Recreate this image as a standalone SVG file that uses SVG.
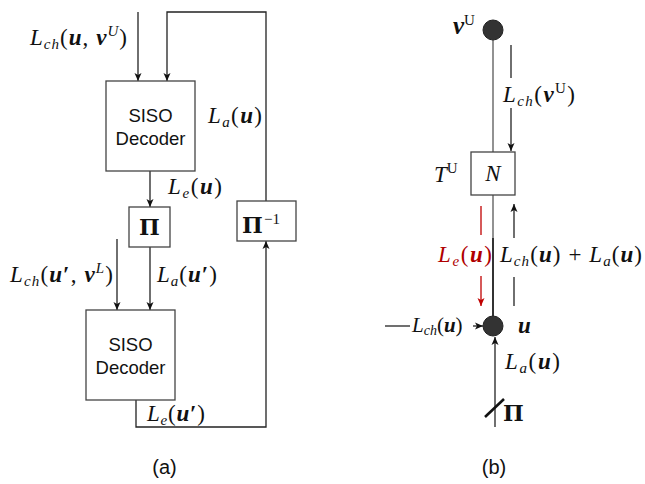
<svg xmlns="http://www.w3.org/2000/svg" width="645" height="484" viewBox="0 0 645 484">
<defs>
<marker id="ah" markerWidth="10" markerHeight="8" refX="8" refY="4" orient="auto" markerUnits="userSpaceOnUse">
<path d="M0,0.5 L8,4 L0,7.5 L2,4 z" fill="#111"/>
</marker>
<marker id="ahr" markerWidth="10" markerHeight="8" refX="8" refY="4" orient="auto" markerUnits="userSpaceOnUse">
<path d="M0,0.5 L8,4 L0,7.5 L2,4 z" fill="#c00000"/>
</marker>
<style>
.box{fill:#fff;stroke:#444;stroke-width:1.3}
.ln{fill:none;stroke:#222;stroke-width:1.3}
.gl{fill:none;stroke:#777;stroke-width:1.6}
.dl{fill:none;stroke:#333;stroke-width:2}
.red{fill:none;stroke:#c00000;stroke-width:1.3}
.arr{marker-end:url(#ah)}
.node{fill:#333;stroke:#222;stroke-width:1}
.sans{font-family:"Liberation Sans",Arial,sans-serif;font-size:18.5px;fill:#111;text-anchor:middle}
.cap{font-family:"Liberation Sans",Arial,sans-serif;font-size:20px;fill:#111;text-anchor:middle}
.m{font-family:"Liberation Serif","Times New Roman",serif;font-size:23px;fill:#111}
.pi{font-family:"DejaVu Serif","Liberation Serif",serif;font-size:22px;font-weight:bold;fill:#111}
.i{font-style:italic}
.b{font-weight:bold}
.bi{font-style:italic;font-weight:bold}
.s{font-size:15px}
</style>
</defs>

<g id="connectors">
<path class="ln arr" d="M138,12 V81"/>
<path class="ln arr" d="M266,201 V12 H167 V81"/>
<path class="ln arr" d="M150,171 V207"/>
<path class="ln arr" d="M117,239 V310"/>
<path class="ln arr" d="M150,247 V310"/>
<path class="ln arr" d="M136,400 V427 H266 V241"/>

<path class="gl" d="M493,40 V152"/>
<path class="gl" d="M493,195 V238"/>
<path class="dl" d="M493,238 V316"/>
<path class="ln" d="M511,45 V78"/>
<path class="ln arr" d="M511,108 V151"/>
<path class="red" d="M481,206 V235"/>
<path class="red" d="M481,276 V306" marker-end="url(#ahr)"/>
<path class="ln" d="M514,306 V277"/>
<path class="ln arr" d="M514,238 V204"/>
<path class="ln" d="M385,326 H410"/>
<path class="ln arr" d="M473,326 H483"/>
<path class="ln arr" d="M495,427 V337"/>
<path fill="none" stroke="#111" stroke-width="2.6" d="M485,417 L504,399"/>
</g>

<g id="dec1">
<rect class="box" x="106" y="81" width="89" height="90"/>
<text class="sans" x="150.5" y="122">SISO</text>
<text class="sans" x="150.5" y="145">Decoder</text>
</g>
<g id="pi">
<rect class="box" x="129" y="207" width="41" height="40"/>
<text class="pi" x="149.5" y="235" text-anchor="middle">Π</text>
</g>
<g id="piinv">
<rect class="box" x="237" y="201" width="59" height="40"/>
<text class="pi" x="242" y="233">Π</text>
<text class="m s" x="264" y="224">−1</text>
</g>
<g id="dec2">
<rect class="box" x="86" y="310" width="89" height="90"/>
<text class="sans" x="130.5" y="351">SISO</text>
<text class="sans" x="130.5" y="374">Decoder</text>
</g>

<g id="labels-a">
<text class="m" x="30" y="45" textLength="97" lengthAdjust="spacing"><tspan class="i">L</tspan><tspan class="i s" dy="4">ch</tspan><tspan dy="-4">(</tspan><tspan class="bi">u</tspan><tspan>, </tspan><tspan class="bi">v</tspan><tspan class="i s" dy="-9">U</tspan><tspan dy="9">)</tspan></text>
<text class="m" x="208" y="123" textLength="54" lengthAdjust="spacing"><tspan class="i">L</tspan><tspan class="i s" dy="4">a</tspan><tspan dy="-4">(</tspan><tspan class="bi">u</tspan><tspan>)</tspan></text>
<text class="m" x="168" y="194" textLength="54" lengthAdjust="spacing"><tspan class="i">L</tspan><tspan class="i s" dy="4">e</tspan><tspan dy="-4">(</tspan><tspan class="bi">u</tspan><tspan>)</tspan></text>
<text class="m" x="10" y="282" textLength="103" lengthAdjust="spacing"><tspan class="i">L</tspan><tspan class="i s" dy="4">ch</tspan><tspan dy="-4">(</tspan><tspan class="bi">u</tspan><tspan class="b">′</tspan><tspan>, </tspan><tspan class="bi">v</tspan><tspan class="i s" dy="-9">L</tspan><tspan dy="9">)</tspan></text>
<text class="m" x="157" y="282" textLength="60" lengthAdjust="spacing"><tspan class="i">L</tspan><tspan class="i s" dy="4">a</tspan><tspan dy="-4">(</tspan><tspan class="bi">u</tspan><tspan class="b">′</tspan><tspan>)</tspan></text>
<text class="m" x="147" y="421" textLength="58" lengthAdjust="spacing"><tspan class="i">L</tspan><tspan class="i s" dy="4">e</tspan><tspan dy="-4">(</tspan><tspan class="bi">u</tspan><tspan class="b">′</tspan><tspan>)</tspan></text>
<text class="cap" x="164.5" y="474">(a)</text>
</g>

<g id="node-vU">
<circle class="node" cx="493" cy="30" r="10"/>
<text class="m" x="453" y="34"><tspan class="bi" style="font-size:25px">v</tspan><tspan class="s" dy="-9">U</tspan></text>
</g>
<g id="node-N">
<rect class="box" x="471" y="152" width="44" height="43"/>
<text class="m i" x="493" y="181" text-anchor="middle">N</text>
<text class="m" x="434" y="182"><tspan class="i">T</tspan><tspan class="s" dy="-9">U</tspan></text>
</g>
<g id="node-u">
<circle class="node" cx="493" cy="326" r="10"/>
<text class="m bi" x="518" y="333">u</text>
</g>
<g id="pi-b">
<text class="pi" x="503" y="421">Π</text>
</g>

<g id="labels-b">
<text class="m" x="503" y="102" textLength="72" lengthAdjust="spacing"><tspan class="i">L</tspan><tspan class="i s" dy="4">ch</tspan><tspan dy="-4">(</tspan><tspan class="bi">v</tspan><tspan class="s" dy="-9">U</tspan><tspan dy="9">)</tspan></text>
<text class="m" x="438" y="262" textLength="54" lengthAdjust="spacing" style="fill:#b00000"><tspan class="i">L</tspan><tspan class="i s" dy="4">e</tspan><tspan dy="-4">(</tspan><tspan class="bi">u</tspan><tspan>)</tspan></text>
<text class="m" x="500" y="262" textLength="142" lengthAdjust="spacing"><tspan class="i">L</tspan><tspan class="i s" dy="4">ch</tspan><tspan dy="-4">(</tspan><tspan class="bi">u</tspan><tspan>) + </tspan><tspan class="i">L</tspan><tspan class="i s" dy="4">a</tspan><tspan dy="-4">(</tspan><tspan class="bi">u</tspan><tspan>)</tspan></text>
<text class="m" x="412" y="332" style="font-size:21px"><tspan class="i">L</tspan><tspan class="i" style="font-size:14px" dy="3">ch</tspan><tspan dy="-3">(</tspan><tspan class="bi">u</tspan><tspan>)</tspan></text>
<text class="m" x="505" y="369" textLength="55" lengthAdjust="spacing"><tspan class="i">L</tspan><tspan class="i s" dy="4">a</tspan><tspan dy="-4">(</tspan><tspan class="bi">u</tspan><tspan>)</tspan></text>
<text class="cap" x="494" y="474">(b)</text>
</g>
</svg>
